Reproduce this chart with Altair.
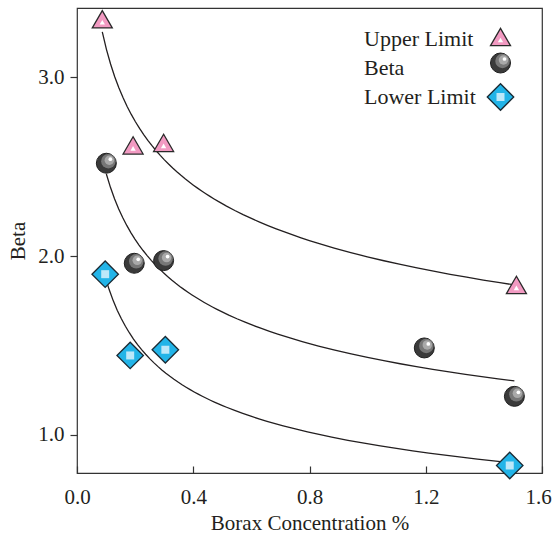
import altair as alt
import pandas as pd

# ---------------- data ----------------
series_names = ["Upper Limit", "Beta", "Lower Limit"]

upper_x = [0.087, 0.193, 0.298, 1.512]
upper_y = [3.326, 2.620, 2.634, 1.839]

beta_x = [0.101, 0.197, 0.298, 1.195, 1.505]
beta_y = [2.520, 1.960, 1.975, 1.486, 1.215]

lower_x = [0.097, 0.183, 0.304, 1.489]
lower_y = [1.899, 1.444, 1.476, 0.828]

x_ticks = [0.0, 0.4, 0.8, 1.2, 1.6]
y_ticks = [1.0, 2.0, 3.0]

rows = []
for name, xs, ys in zip(series_names, [upper_x, beta_x, lower_x], [upper_y, beta_y, lower_y]):
    for xv, yv in zip(xs, ys):
        rows.append({"series": name, "x": xv, "y": yv})
df = pd.DataFrame(rows)

# ---------------- style ----------------
FONT = "Liberation Serif"
INK = "#231f20"
PINK = "#f29ac2"
CYAN = "#22b4e8"

X = alt.X(
    "x:Q",
    scale=alt.Scale(domain=[0, 1.6], nice=False, zero=False),
    axis=alt.Axis(
        values=x_ticks, format=".1f", title="Borax Concentration %",
        domain=False, grid=False, tickSize=7, offset=-7,
        labelPadding=13, titlePadding=5, labelFlush=False, labelOverlap=False,
        labelOffset={"condition": {"test": "datum.value >= 1.6", "value": -4}, "value": 0},
    ),
)
Y = alt.Y(
    "y:Q",
    scale=alt.Scale(domain=[0.786, 3.389], nice=False, zero=False),
    axis=alt.Axis(
        values=y_ticks, format=".1f", title="Beta",
        domain=False, grid=False, tickSize=7,
        labelPadding=6, titlePadding=9, labelFlush=False, labelOverlap=False,
    ),
)


def glyph(base, kind):
    if kind == "Upper Limit":
        return [
            base.mark_point(shape="triangle-up", size=400, filled=True, fill=PINK,
                            stroke="#2a2a2a", strokeWidth=1.3, opacity=1),
            base.mark_point(shape="triangle-up", size=28, filled=True, fill="white",
                            opacity=1, yOffset=3),
        ]
    if kind == "Beta":
        return [
            base.mark_point(shape="circle", size=400, filled=True, fill="#3a3a3a",
                            stroke="#1e1e1e", strokeWidth=1, opacity=1),
            base.mark_point(shape="circle", size=210, filled=True, fill="#777777",
                            opacity=1, xOffset=2, yOffset=-2),
            base.mark_point(shape="circle", size=90, filled=True, fill="#a9a9a9",
                            opacity=1, xOffset=3, yOffset=-3),
            base.mark_point(shape="circle", size=14, filled=True, fill="white",
                            opacity=1, xOffset=4, yOffset=-4),
        ]
    return [
        base.mark_point(shape="diamond", size=700, filled=True, fill=CYAN,
                        stroke="#1b2a33", strokeWidth=1.3, opacity=1),
        base.mark_point(shape="square", size=64, filled=True, fill="#bde8f9",
                        opacity=1),
    ]


layers = []

curves = (
    alt.Chart(df)
    .transform_regression("x", "y", method="pow", groupby=["series"])
    .mark_line(color=INK, strokeWidth=1.3)
    .encode(x=X, y=Y, detail="series:N")
)
layers.append(curves)

for name in series_names:
    base = alt.Chart(df).transform_filter(alt.datum.series == name).encode(x=X, y=Y)
    layers.extend(glyph(base, name))

# legend (labels left, symbols right)
legend_text_x = 287
legend_sym_x = 423.5
legend_text_y = [37.5, 66.5, 95.5]
legend_sym_y = [29, 55, 89]
for name, ty, sy in zip(series_names, legend_text_y, legend_sym_y):
    ldf = pd.DataFrame({"label": [name]})
    layers.append(
        alt.Chart(ldf).mark_text(font=FONT, fontSize=22, color=INK, align="left",
                                 baseline="alphabetic")
        .encode(text="label:N", x=alt.value(legend_text_x), y=alt.value(ty))
    )
    lbase = alt.Chart(ldf).encode(x=alt.value(legend_sym_x), y=alt.value(sy))
    layers.extend(glyph(lbase, name))

chart = (
    alt.layer(*layers)
    .properties(
        width=465, height=465,
        autosize=alt.AutoSizeParams(type="none"),
        padding={"left": 77, "top": 8, "right": 10, "bottom": 62},
        background="white",
    )
    .configure_view(stroke="#333333", strokeWidth=1.2)
    .configure_axis(
        labelFont=FONT, titleFont=FONT, labelFontSize=21, titleFontSize=21,
        labelColor=INK, titleColor=INK, titleFontWeight="normal",
        tickColor="#333333", tickWidth=1.2,
    )
)

chart.save("out.html", embed_options={"renderer": "svg", "actions": False})
